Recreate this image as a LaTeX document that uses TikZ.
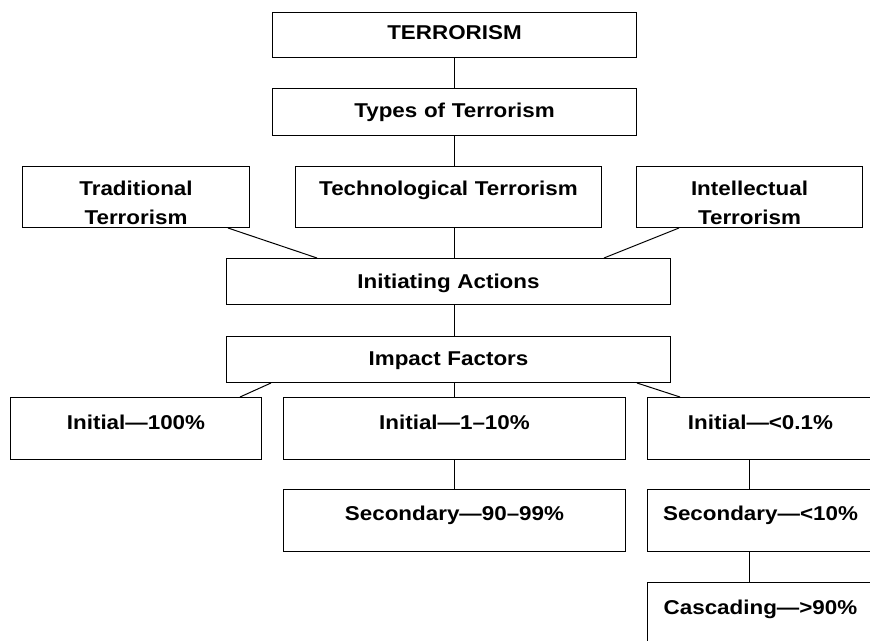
\documentclass[tikz,border=0pt]{standalone}
\usepackage{fontspec}
\setmainfont{Liberation Sans}[FakeStretch=1.12]
\usepackage{tikz}
\usetikzlibrary{calc}

\tikzset{
    box/.style={draw, line width=1pt, inner sep=0pt, align=center, anchor=north west,
                font=\fontsize{20}{29}\selectfont\bfseries},
    link/.style={line width=1pt}
}

\begin{document}
\begin{tikzpicture}[x=1pt, y=-1pt]
    \useasboundingbox (0,0) rectangle (870,640);
    \clip (0,0) rectangle (870,640);

    % Top of the tree
    \node[box, text width=364pt, text height=27pt, text depth=18pt] (terrorism) at (272,12) {TERRORISM};
    \node[box, text width=364pt, text height=29pt, text depth=18pt] (types) at (272,88) {Types of Terrorism};

    % Three kinds
    \node[box, text width=227pt, text height=29pt, text depth=32pt] (traditional) at (22,166) {Traditional\\Terrorism};
    \node[box, text width=306pt, text height=29pt, text depth=32pt] (technological) at (295,166) {Technological Terrorism};
    \node[box, text width=226pt, text height=29pt, text depth=32pt] (intellectual) at (636,166) {Intellectual\\Terrorism};

    \node[box, text width=444pt, text height=30pt, text depth=16pt] (initiating) at (226,258) {Initiating Actions};
    \node[box, text width=444pt, text height=29pt, text depth=17pt] (impact) at (226,336) {Impact Factors};

    % Impact levels
    \node[box, text width=251pt, text height=32pt, text depth=30pt] (initA) at (10,397) {Initial—100\%};
    \node[box, text width=342pt, text height=32pt, text depth=30pt] (initB) at (283,397) {Initial—1–10\%};
    \node[box, text width=226pt, text height=32pt, text depth=30pt] (initC) at (647,397) {Initial—<0.1\%};
    \node[box, text width=342pt, text height=31pt, text depth=31pt] (secB) at (283,489) {Secondary—90–99\%};
    \node[box, text width=226pt, text height=31pt, text depth=31pt] (secC) at (647,489) {Secondary—<10\%};
    \node[box, text width=226pt, text height=32pt, text depth=30pt] (cascC) at (647,582) {Cascading—>90\%};

    % Connectors
    \draw[link] (terrorism) -- (types);
    \draw[link] (types.south) -- (types.south |- technological.north);
    \draw[link] (technological.south -| types.south) -- (initiating.north -| types.south);
    \draw[link] ([xshift=-22pt]traditional.south east) -- ([xshift=91pt]initiating.north west);
    \draw[link] ([xshift=43pt]intellectual.south west) -- ([xshift=-67pt]initiating.north east);
    \draw[link] (initiating.south -| types.south) -- (impact.north -| types.south);
    \draw[link] ([xshift=45pt]impact.south west) -- ([xshift=-22pt]initA.north east);
    \draw[link] (impact.south -| types.south) -- (initB.north -| types.south);
    \draw[link] ([xshift=-34pt]impact.south east) -- ([xshift=33pt]initC.north west);
    \draw[link] (initB) -- (secB);
    \draw[link] ([xshift=102pt]initC.south west) -- ([xshift=102pt]secC.north west);
    \draw[link] ([xshift=102pt]secC.south west) -- ([xshift=102pt]cascC.north west);
\end{tikzpicture}
\end{document}
